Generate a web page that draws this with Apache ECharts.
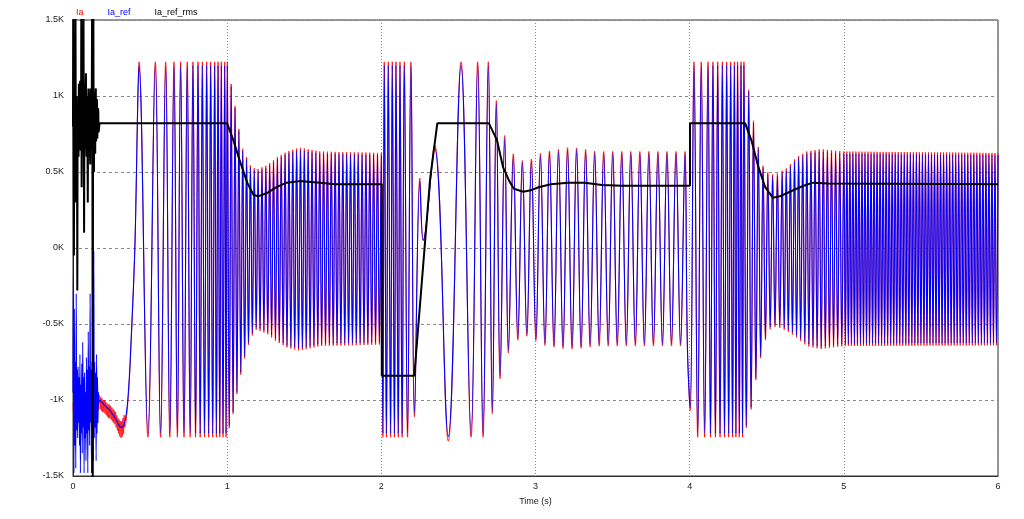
<!DOCTYPE html>
<html><head><meta charset="utf-8">
<script src="https://cdn.jsdelivr.net/npm/echarts@6/dist/echarts.min.js"></script>
<style>html,body{margin:0;padding:0;background:#fff}#c{width:1024px;height:519px}</style>
</head><body><div id="c"></div>
<script>
// ---------- data (values in K-amperes, time in s) ----------
const seriesNames = ['Ia', 'Ia_ref', 'Ia_ref_rms'];
const xTicks = [0, 1, 2, 3, 4, 5, 6];
const yTicks = [-1.5, -1, -0.5, 0, 0.5, 1, 1.5];

// start-up transient 0 - 0.17 s
const refNoise = [[0.000,-0.95],[0.003,-0.02],[0.006,-1.48],[0.009,-0.40],[0.012,-1.30],[0.015,-0.75],[0.018,-1.45],[0.021,-0.30],[0.024,-1.20],[0.027,-0.80],[0.030,-1.25],[0.033,-0.78],[0.036,-1.15],[0.039,-0.85],[0.042,-1.30],[0.045,-0.70],[0.048,-1.48],[0.051,-0.90],[0.054,-1.22],[0.057,-0.76],[0.060,-1.35],[0.063,-0.62],[0.066,-1.18],[0.069,-0.85],[0.072,-1.48],[0.075,-0.82],[0.078,-1.25],[0.081,-0.95],[0.084,-1.40],[0.087,-0.72],[0.090,-1.22],[0.093,-0.80],[0.096,-1.48],[0.099,-0.55],[0.102,-1.20],[0.105,-0.78],[0.108,-1.30],[0.111,-0.30],[0.114,-1.15],[0.117,-0.80],[0.120,-1.48],[0.123,-0.75],[0.126,-1.20],[0.129,-0.85],[0.132,-1.40],[0.135,-0.02],[0.138,-1.25],[0.141,-0.75],[0.144,-1.18],[0.147,-0.82],[0.150,-1.40],[0.153,-0.70],[0.156,-1.22],[0.159,-0.85],[0.162,-1.15],[0.165,-0.95],[0.168,-1.02]];
const iaNoise = [[0,-1.02],[0.004,-1.1],[0.008,-0.98],[0.012,-1.12],[0.016,-1.0],[0.02,-1.08],[0.024,-0.97],[0.028,-1.11],[0.032,-1.01],[0.036,-1.09],[0.04,-0.99],[0.044,-1.12],[0.048,-1.0],[0.052,-1.1],[0.056,-0.98],[0.06,-1.11],[0.064,-1.01],[0.068,-1.09],[0.072,-0.98],[0.076,-1.12],[0.08,-1.0],[0.084,-1.1],[0.088,-0.99],[0.092,-1.11],[0.096,-1.0],[0.1,-1.09],[0.104,-0.98],[0.108,-1.12],[0.112,-1.01],[0.116,-1.1],[0.12,-0.99],[0.124,-1.11],[0.128,-1.0],[0.132,-1.09],[0.136,-0.98],[0.14,-1.1],[0.144,-1.0],[0.148,-1.11],[0.152,-0.99],[0.156,-1.08],[0.16,-0.98],[0.164,-1.07],[0.168,-0.99]];
const rmsNoise = [[0,0.8],[0.002,1.6],[0.004,0.7],[0.006,-0.05],[0.008,1.05],[0.01,0.65],[0.012,1.1],[0.014,0.62],[0.016,1.6],[0.018,0.75],[0.02,0.3],[0.022,0.95],[0.024,1.0],[0.026,0.7],[0.028,-0.28],[0.03,0.9],[0.032,0.95],[0.034,0.66],[0.036,0.6],[0.038,1.08],[0.04,1.05],[0.042,0.7],[0.044,0.65],[0.046,1.1],[0.048,1.0],[0.05,0.64],[0.052,0.7],[0.054,1.6],[0.056,0.4],[0.058,0.9],[0.06,1.1],[0.062,0.7],[0.064,0.62],[0.066,1.05],[0.068,1.6],[0.07,0.75],[0.072,0.1],[0.074,0.95],[0.076,1.0],[0.078,0.68],[0.08,0.65],[0.082,1.05],[0.084,1.15],[0.086,0.7],[0.088,0.6],[0.09,1.0],[0.092,0.95],[0.094,0.66],[0.096,0.3],[0.098,0.9],[0.1,1.05],[0.102,0.68],[0.104,0.7],[0.106,1.02],[0.108,0.95],[0.11,0.62],[0.112,0.55],[0.114,1.05],[0.116,1.0],[0.118,0.7],[0.12,0.65],[0.122,1.0],[0.124,1.6],[0.126,0.6],[0.128,-1.6],[0.13,0.8],[0.132,1.6],[0.134,0.7],[0.136,0.5],[0.138,1.02],[0.14,1.0],[0.142,0.68],[0.144,0.62],[0.146,1.0],[0.148,1.05],[0.15,0.7],[0.152,0.7],[0.154,0.98],[0.156,0.95],[0.158,0.72],[0.16,0.72],[0.162,0.92],[0.164,0.9],[0.166,0.76],[0.168,0.78]];

// dip before the first acceleration
const refDip = [[0.172,-1.0],[0.2,-1.03],[0.24,-1.07],[0.28,-1.13],[0.30,-1.17],[0.313,-1.18],[0.335,-1.15]];
const iaDip = [[0.172,-0.97],[0.176,-1.06],[0.18,-0.98],[0.184,-1.07],[0.188,-0.99],[0.192,-1.08],[0.196,-1.0],[0.2,-1.08],[0.204,-1.0],[0.208,-1.09],[0.212,-1.01],[0.216,-1.1],[0.22,-1.02],[0.224,-1.11],[0.228,-1.03],[0.232,-1.12],[0.236,-1.03],[0.24,-1.12],[0.244,-1.04],[0.248,-1.13],[0.252,-1.05],[0.256,-1.14],[0.26,-1.06],[0.264,-1.15],[0.268,-1.07],[0.272,-1.16],[0.276,-1.08],[0.28,-1.18],[0.284,-1.1],[0.288,-1.2],[0.292,-1.12],[0.296,-1.22],[0.3,-1.13],[0.304,-1.24],[0.308,-1.14],[0.312,-1.25],[0.316,-1.14],[0.32,-1.24],[0.324,-1.12],[0.328,-1.22],[0.332,-1.1],[0.336,-1.18]];

// explicit extremes [t, Ia_ref, Ia]
const swingA = [[0.357,-0.98,-1.0],[0.378,-0.58,-0.6],[0.40,-0.04,-0.04],[0.41,0.40,0.41],[0.42,0.95,0.97],[0.428,1.2,1.225],[0.486,-1.22,-1.245],[0.534,1.2,1.225],[0.568,-1.22,-1.245],[0.601,1.2,1.225],[0.628,-1.22,-1.245],[0.655,1.2,1.225],[0.677,-1.22,-1.245],[0.698,1.2,1.225],[0.72,-1.22,-1.245],[0.741,1.2,1.225],[0.76,-1.22,-1.245],[0.778,1.2,1.225],[0.795,-1.22,-1.245],[0.811,1.2,1.225],[0.825,-1.22,-1.245],[0.839,1.2,1.225],[0.853,-1.22,-1.245],[0.867,1.2,1.225],[0.88,-1.22,-1.245],[0.893,1.2,1.225],[0.906,-1.22,-1.245],[0.919,1.2,1.225],[0.93,-1.22,-1.245],[0.941,1.2,1.225],[0.952,-1.22,-1.245],[0.962,1.2,1.225],[0.973,-1.22,-1.245],[0.984,1.2,1.225],[0.993,-1.22,-1.245],[1.001,1.2,1.225]];
const swingB = [[2.01,-1.22,-1.245],[2.019,1.2,1.225],[2.033,-1.22,-1.245],[2.045,1.2,1.225],[2.06,-1.22,-1.245],[2.071,1.2,1.225],[2.085,-1.22,-1.245],[2.095,1.2,1.225],[2.11,-1.22,-1.245],[2.121,1.2,1.225],[2.135,-1.22,-1.245],[2.149,1.2,1.225],[2.17,-1.22,-1.245],[2.192,1.2,1.225],[2.215,-1.09,-1.11],[2.25,0.44,0.46],[2.272,0.05,0.05],[2.345,0.66,0.68],[2.434,-1.24,-1.27],[2.517,1.2,1.225],[2.582,-1.22,-1.245],[2.625,1.2,1.225],[2.66,-1.22,-1.245],[2.694,1.2,1.225],[2.72,-1.07,-1.09],[2.746,0.95,0.97],[2.77,-0.84,-0.86],[2.80,0.72,0.74],[2.824,-0.67,-0.69],[2.856,0.60,0.62]];
const swingC = [[3.985,-0.63,-0.645],[4.003,-1.05,-1.07],[4.028,1.2,1.225],[4.052,-1.22,-1.245],[4.075,1.2,1.225],[4.097,-1.22,-1.245],[4.119,1.2,1.225],[4.135,-1.22,-1.245],[4.151,1.2,1.225],[4.167,-1.22,-1.245],[4.182,1.2,1.225],[4.197,-1.22,-1.245],[4.212,1.2,1.225],[4.226,-1.22,-1.245],[4.24,1.2,1.225],[4.253,-1.22,-1.245],[4.266,1.2,1.225],[4.278,-1.22,-1.245],[4.29,1.2,1.225],[4.30,-1.22,-1.245],[4.311,1.2,1.225],[4.322,-1.22,-1.245],[4.333,1.2,1.225],[4.343,-1.22,-1.245],[4.352,1.2,1.225]];

// dense stretches: [start (a peak), end (a peak), cycles counted]
const denseSegs = [[1.001,2.0,40],[2.856,3.97,19],[4.352,4.6,8],[4.6,5.0,15],[5.0,6.0,51]];
// envelopes of the dense stretches
const envT  = [1.0,1.04,1.07,1.10,1.15,1.19,1.26,1.32,1.39,1.47,1.6,2.0,2.85,2.9,2.96,3.01,3.07,3.2,3.26,3.4,4.0,4.35,4.39,4.43,4.48,4.52,4.56,4.63,4.69,4.76,4.85,5.0,6.0];
const refUp = [1.2,0.99,0.80,0.64,0.53,0.50,0.53,0.58,0.62,0.645,0.62,0.61,0.60,0.56,0.56,0.60,0.62,0.645,0.645,0.62,0.62,1.2,0.99,0.71,0.51,0.47,0.47,0.51,0.58,0.62,0.635,0.62,0.61];
const refLo = [-1.22,-1.07,-0.91,-0.76,-0.58,-0.52,-0.55,-0.60,-0.64,-0.66,-0.63,-0.62,-0.62,-0.58,-0.56,-0.60,-0.63,-0.65,-0.65,-0.63,-0.63,-1.22,-1.10,-0.85,-0.62,-0.52,-0.50,-0.53,-0.57,-0.63,-0.65,-0.63,-0.625];
const iaUp  = [1.215,1.005,0.815,0.655,0.545,0.515,0.545,0.595,0.635,0.66,0.635,0.625,0.615,0.575,0.575,0.615,0.635,0.66,0.66,0.635,0.635,1.215,1.005,0.725,0.525,0.485,0.485,0.525,0.595,0.635,0.65,0.635,0.625];
const iaLo  = [-1.235,-1.085,-0.925,-0.775,-0.595,-0.535,-0.565,-0.615,-0.655,-0.675,-0.645,-0.635,-0.635,-0.595,-0.575,-0.615,-0.645,-0.665,-0.665,-0.645,-0.645,-1.235,-1.115,-0.865,-0.635,-0.535,-0.515,-0.545,-0.585,-0.645,-0.665,-0.645,-0.64];

// RMS reference
const rmsT = [0.172,1.0,1.04,1.08,1.13,1.17,1.2,1.256,1.32,1.386,1.47,1.6,1.7,2.003,2.003,2.214,2.316,2.363,2.698,2.75,2.79,2.83,2.86,2.92,2.97,3.02,3.1,3.21,3.32,3.43,3.56,4.002,4.002,4.36,4.40,4.445,4.49,4.54,4.585,4.65,4.74,4.80,4.9,6.0];
const rmsV = [0.82,0.82,0.71,0.58,0.43,0.35,0.34,0.36,0.40,0.43,0.44,0.43,0.42,0.42,-0.84,-0.84,0.45,0.82,0.82,0.71,0.53,0.44,0.39,0.37,0.38,0.40,0.42,0.43,0.43,0.415,0.41,0.41,0.82,0.82,0.71,0.535,0.40,0.33,0.34,0.37,0.41,0.43,0.425,0.42];

// ---------- build series ----------
function envAt(arr, t) {
  if (t <= envT[0]) return arr[0];
  for (let i = 1; i < envT.length; i++) {
    if (t <= envT[i]) {
      const f = (t - envT[i-1]) / (envT[i] - envT[i-1]);
      return arr[i-1] + f * (arr[i] - arr[i-1]);
    }
  }
  return arr[arr.length-1];
}
function dense(seg, up, lo) {
  const [t0, t1, n] = seg, out = [];
  for (let k = 1; k <= 2*n; k++) {
    const t = t0 + k * (t1 - t0) / (2*n);
    out.push([t, k % 2 ? envAt(lo, t) : envAt(up, t)]);
  }
  return out;
}
const pick = (list, col) => list.map(r => [r[0], r[col]]);
function build(col, noise, dip, up, lo) {
  return [].concat(noise, dip, pick(swingA, col), dense(denseSegs[0], up, lo),
    pick(swingB, col), dense(denseSegs[1], up, lo), pick(swingC, col),
    dense(denseSegs[2], up, lo), dense(denseSegs[3], up, lo), dense(denseSegs[4], up, lo));
}
const refData = build(1, refNoise, refDip, refUp, refLo);
const iaData = build(2, iaNoise, iaDip, iaUp, iaLo);
const rmsData = rmsNoise.concat(rmsT.map((t, i) => [t, rmsV[i]]));

const FONT = 'Liberation Sans';
const chart = echarts.init(document.getElementById('c'), null, {renderer: 'canvas'});
chart.setOption({
  animation: false,
  backgroundColor: '#fff',
  legend: {
    left: 66, top: 3, itemWidth: 0, itemHeight: 0, itemGap: 19, icon: 'rect',
    selectedMode: false,
    textStyle: {fontSize: 9, fontFamily: FONT},
    data: [
      {name: seriesNames[0], textStyle: {color: '#ff0000'}},
      {name: seriesNames[1], textStyle: {color: '#0000ff'}},
      {name: seriesNames[2], textStyle: {color: '#000000'}}
    ]
  },
  grid: {left: 73, right: 26, top: 20, bottom: 43, show: true, borderColor: '#333', borderWidth: 1, backgroundColor: '#fff'},
  xAxis: {
    type: 'value', min: xTicks[0], max: xTicks[xTicks.length-1], interval: 1,
    name: 'Time (s)', nameLocation: 'middle', nameGap: 21,
    nameTextStyle: {fontSize: 9, color: '#222', fontFamily: FONT},
    axisLine: {show: true, onZero: false, lineStyle: {color: '#333'}},
    axisTick: {show: false},
    axisLabel: {fontSize: 9, color: '#222', margin: 6, fontFamily: FONT},
    splitLine: {show: true, lineStyle: {color: '#888', type: [1, 2], width: 1}}
  },
  yAxis: {
    type: 'value', min: yTicks[0], max: yTicks[yTicks.length-1], interval: 0.5,
    axisLine: {show: true, onZero: false, lineStyle: {color: '#333'}},
    axisTick: {show: false},
    axisLabel: {fontSize: 9, color: '#222', margin: 9, fontFamily: FONT, formatter: v => v + 'K'},
    splitLine: {show: true, lineStyle: {color: '#888', type: [3, 3], width: 1}}
  },
  series: [
    {name: seriesNames[0], type: 'line', data: iaData, showSymbol: false, symbol: 'none', smooth: 0.4,
      lineStyle: {color: '#ff0000', width: 0.8}, itemStyle: {color: '#ff0000'}, z: 2},
    {name: seriesNames[1], type: 'line', data: refData, showSymbol: false, symbol: 'none', smooth: 0.4,
      lineStyle: {color: '#0000ff', width: 1.1}, itemStyle: {color: '#0000ff'}, z: 3},
    {name: seriesNames[2], type: 'line', data: rmsData, showSymbol: false, symbol: 'none',
      lineStyle: {color: '#000000', width: 2}, itemStyle: {color: '#000000'}, z: 4}
  ]
});
</script></body></html>
